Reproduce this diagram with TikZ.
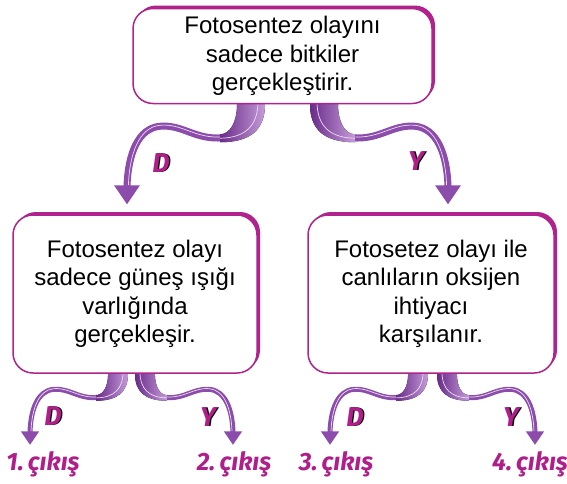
\documentclass[tikz,border=0pt]{standalone}
\usepackage{fontspec}
\setmainfont{Liberation Sans}
\newfontfamily\labfont{Fira Sans}
\usetikzlibrary{shadows,backgrounds}
\definecolor{mag}{HTML}{B0228C}
\definecolor{rib}{HTML}{8C4CAC}
\definecolor{ribD}{HTML}{6A2B8A}
\definecolor{ribL}{HTML}{C49BD8}
\definecolor{ribW}{HTML}{EBDDF2}
\definecolor{lab}{HTML}{B01E8A}
\tikzset{
  pics/ribbon/.style={code={
    \draw[line width=#1, draw=rib, line cap=butt]
      (-42,33.5) .. controls (-70,36) and (-82,20) .. (-105,22)
      .. controls (-127,24) and (-137,50) .. (-138,82);
    \draw[line width=0.7pt, draw=ribW]
      (-42,32.5) .. controls (-70,35) and (-82,19) .. (-105,21)
      .. controls (-126,23) and (-135.6,50) .. (-136.6,81);
    \fill[left color=ribD, right color=ribL]
      (0,-4) -- (0,0) .. controls (0,26) and (-15,38) .. (-45,38)
      -- (-45,30) .. controls (-35,30) and (-28,18) .. (-28,0) -- (-28,-4) -- cycle;
    \draw[line width=0.7pt, draw=ribW]
      (-7,-3) .. controls (-7,22) and (-20,33.5) .. (-45,34);
    \fill[rib] (-151,81) -- (-125,81) -- (-138,100) -- cycle;
  }}
}
\newcommand{\dylab}[1]{\rlap{\color{black}\kern1.4pt #1}\color{lab}#1}
\begin{document}
\begin{tikzpicture}[x=1pt,y=-1pt,
  box/.style={draw=mag, line width=1.5pt, fill=white, rounded corners=20pt,
    align=center, inner sep=0pt, font=\fontsize{24}{28.5}\selectfont,
    general shadow={fill=mag, shadow xshift=3pt, shadow yshift=3pt}},
  dy/.style={font=\labfont\bfseries\itshape\fontsize{27}{28}\selectfont, inner sep=0pt},
  exitlab/.style={font=\labfont\bfseries\itshape\fontsize{25}{28}\selectfont, text=lab, inner sep=0pt}]
\useasboundingbox (0,0) rectangle (567,483);

\node[box, minimum width=299pt, minimum height=95pt] (top) at (282.5,56)
  {Fotosentez olayını\\sadece bitkiler\\gerçekleştirir.};
\node[box, minimum width=244pt, minimum height=158pt] (lb) at (135,294)
  {Fotosentez olayı\\sadece güneş ışığı\\varlığında\\gerçekleşir.};
\node[box, minimum width=246pt, minimum height=158pt] (rb) at (431,294)
  {Fotosetez olayı ile\\canlıların oksijen\\ihtiyacı\\karşılanır.};

\node[dy] (d1) at (161,163) {\dylab{D}};
\node[dy] (y1) at (416,161) {\dylab{Y}};
\node[dy] (d2) at (53,416) {\dylab{D}};
\node[dy] (y2) at (208,417) {\dylab{Y}};
\node[dy] (d3) at (355,417) {\dylab{D}};
\node[dy] (y3) at (511,417) {\dylab{Y}};

\node[exitlab] (e1) at (43,464) {1.\,çıkış};
\node[exitlab] (e2) at (234,464) {2.\,çıkış};
\node[exitlab] (e3) at (336,464) {3.\,çıkış};
\node[exitlab] (e4) at (530,464) {4.\,çıkış};

\begin{pgfonlayer}{background}
  \pic at ([xshift=-17.5pt]top.south) {ribbon=7pt};
  \pic[xscale=-1] at ([xshift=27.5pt]top.south) {ribbon=7pt};
  \pic[scale=0.71] at ([xshift=-7pt]lb.south) {ribbon=5pt};
  \pic[xscale=-0.71,yscale=0.71] at ([xshift=0pt]lb.south) {ribbon=5pt};
  \pic[scale=0.71] at ([xshift=-3pt]rb.south) {ribbon=5pt};
  \pic[xscale=-0.71,yscale=0.71] at ([xshift=6pt]rb.south) {ribbon=5pt};
\end{pgfonlayer}
\end{tikzpicture}
\end{document}
